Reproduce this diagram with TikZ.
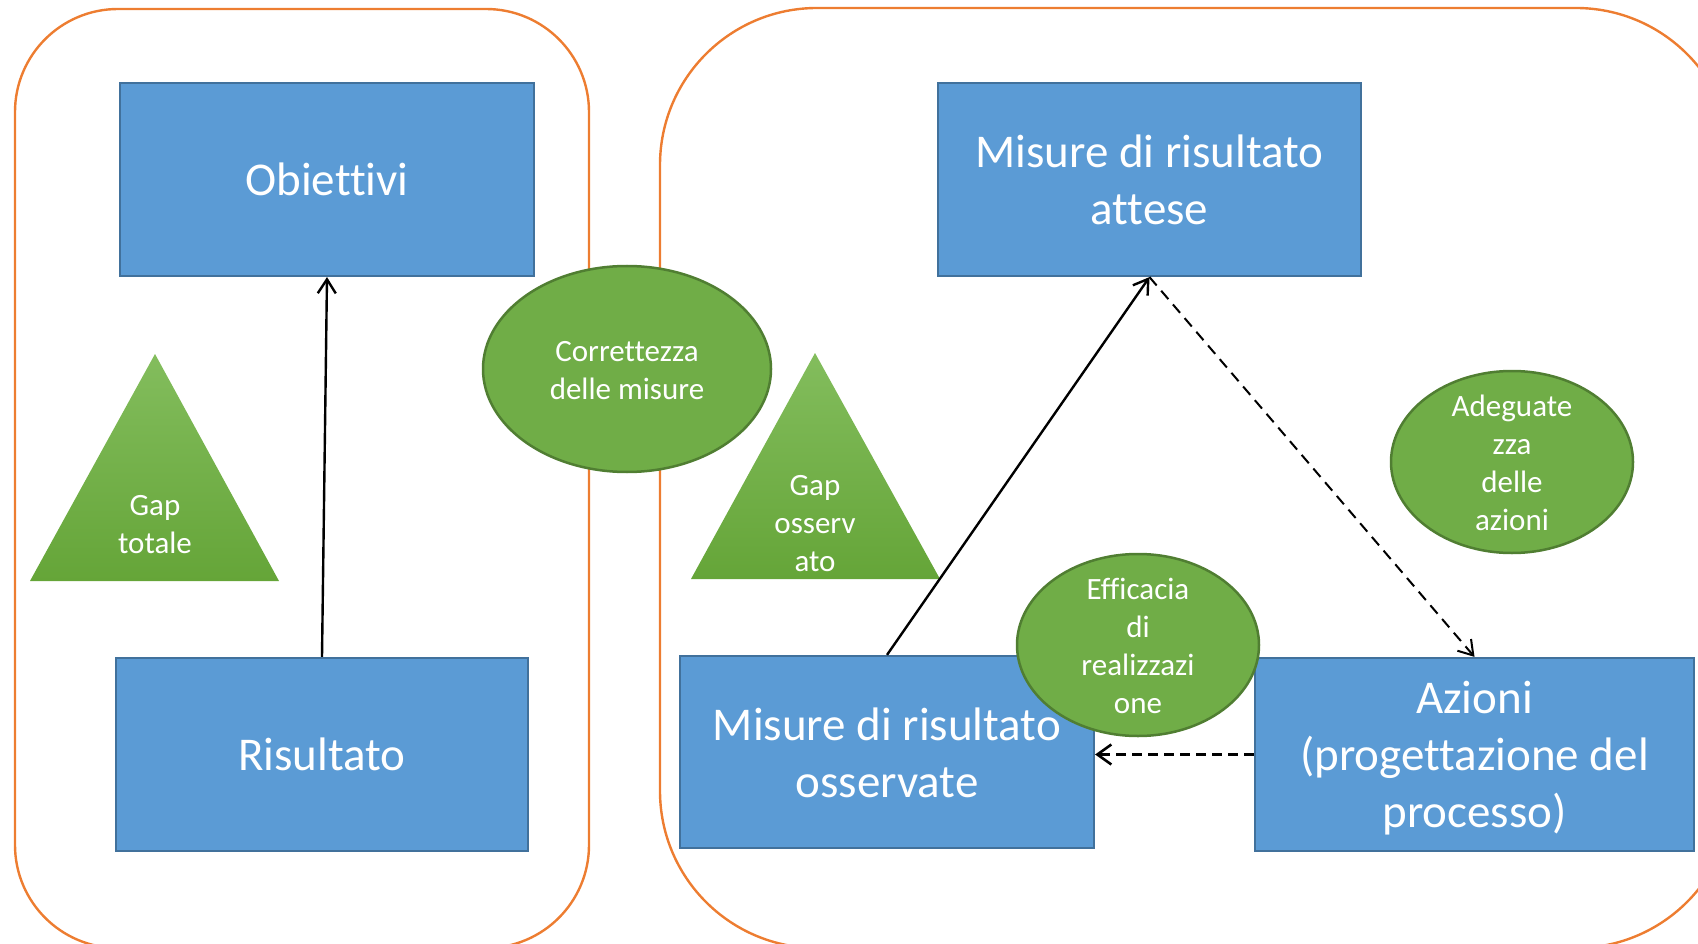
\documentclass[tikz,border=0pt]{standalone}
\usepackage{fontspec}
\setmainfont[Ligatures=NoCommon]{Carlito}
\usetikzlibrary{shapes.geometric,arrows.meta}
\definecolor{boxblue}{RGB}{91,155,213}
\definecolor{boxedge}{RGB}{65,113,156}
\definecolor{ellgreen}{RGB}{112,173,71}
\definecolor{elledge}{RGB}{80,126,50}
\definecolor{tritop}{RGB}{131,189,93}
\definecolor{tribot}{RGB}{101,165,56}
\definecolor{frameorange}{RGB}{237,125,49}
\tikzset{
  frame/.style={draw=frameorange,line width=2.4pt},
  bluebox/.style={rectangle,draw=boxedge,fill=boxblue,line width=2.2pt,text=white,align=center,
    font=\fontsize{47}{57}\selectfont,inner sep=0pt},
  greenell/.style={ellipse,draw=elledge,fill=ellgreen,line width=2.5pt,inner sep=0pt},
  smalltxt/.style={text=white,align=center,font=\fontsize{31}{38}\selectfont,inner sep=0pt},
  bigtxt/.style={text=white,align=center,font=\fontsize{47}{57}\selectfont,inner sep=0pt},
  tri/.style={top color=tritop,bottom color=tribot,draw=none},
  conn/.style={line width=2.4pt,-{Straight Barb[length=14pt,width=18pt,line width=2.4pt]}},
  dconn/.style={line width=2pt,dash pattern=on 11pt off 7pt,-{Straight Barb[length=14pt,width=18pt,line width=2pt]}},
  dconnthick/.style={line width=3pt,dash pattern=on 10pt off 6pt,-{Straight Barb[length=14pt,width=20pt,line width=2.6pt]}}
}
\begin{document}
\begin{tikzpicture}[x=1pt,y=-1pt]
\useasboundingbox (0,0) rectangle (1698,944);
% frames
\draw[frame,rounded corners=103pt] (15,9) rectangle (589,948);
\draw[frame,rounded corners=157pt] (660,8) rectangle (1733,948);
% boxes
\node[bluebox,minimum width=414pt,minimum height=193pt] (obi) at (327,179.5) {Obiettivi};
\node[bluebox,minimum width=412pt,minimum height=193pt] (ris) at (322,754.5) {Risultato};
\node[bluebox,minimum width=423pt,minimum height=193pt] (att) at (1149.5,179.5) {Misure di risultato\\attese};
\node[bluebox,minimum width=414pt,minimum height=192pt] (oss) at (887,752) {};
\node[bluebox,minimum width=439pt,minimum height=193pt] (azi) at (1474.5,754.5) {};
\node[bigtxt] (azit) at (1474.5,758) {Azioni\\(progettazione del\\processo)};
% triangles
\shade[tri] (155,354) -- (279,581) -- (30,581) -- cycle;
\node[smalltxt] (gapt) at (155,525) {Gap\\totale};
\shade[tri] (815,353) -- (940,579) -- (691,579) -- cycle;
\node[smalltxt] (gapo) at (815,524) {Gap\\osserv\\ato};
% ellipses
\node[greenell,minimum width=288pt,minimum height=206pt] (corr) at (627,369) {};
\node[smalltxt] (corrt) at (627,371) {Correttezza\\delle misure};
\node[greenell,minimum width=242pt,minimum height=182pt] (adeg) at (1512,462) {};
\node[smalltxt] (adegt) at (1512,463) {Adeguate\\zza\\delle\\azioni};
\node[greenell,minimum width=242pt,minimum height=182pt] (effi) at (1138,645) {};
\node[smalltxt] (effit) at (1138,646) {Efficacia\\di\\realizzazi\\one};
% text of observed box (drawn above the ellipse)
\node[bigtxt] (osst) at (887,753) {Misure di risultato\\osservate};
% connectors
\draw[conn] (ris.north) -- (obi.south);
\draw[conn] (oss.north) -- (att.south);
\draw[dconn] (att.south) -- (azi.north);
\draw[dconnthick] (azi.west) -- (azi.west -| oss.east);
\end{tikzpicture}
\end{document}
